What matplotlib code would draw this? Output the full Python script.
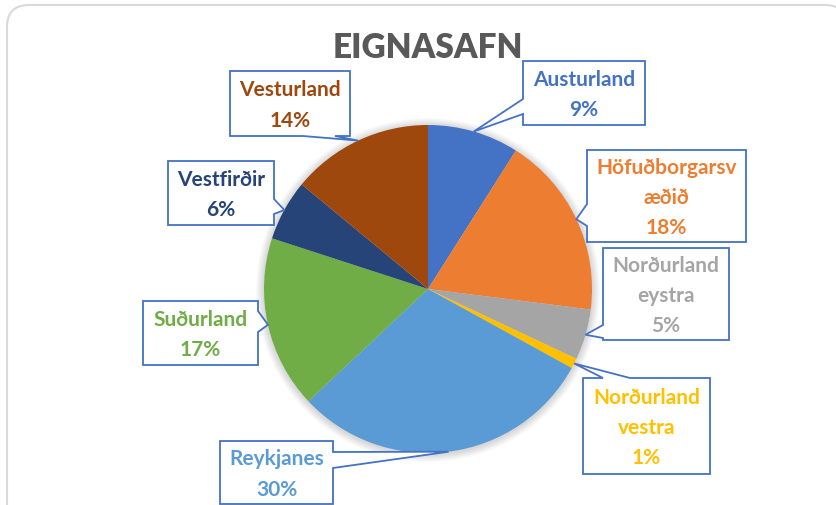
import numpy as np
import matplotlib
matplotlib.use('Agg')
from matplotlib import pyplot as plt
from matplotlib.patches import Polygon, FancyBboxPatch, Circle

# data, clockwise from the top
regions = ['Austurland', 'Höfuðborgarsv\næðið', 'Norðurland\neystra', 'Norðurland\nvestra',
           'Reykjanes', 'Suðurland', 'Vestfirðir', 'Vesturland']
shares = [9, 18, 5, 1, 30, 17, 6, 14]
colors = ['#4472C4', '#ED7D31', '#A5A5A5', '#FFC000',
          '#5B9BD5', '#70AD47', '#264478', '#9E480E']
title = 'EIGNASAFN'

# callout layout in pixels: box (x0, y0, x1, y1), side of the pointer, pointer base span
callouts = [
    ((523, 62, 645, 126), 'left', (100, 115)),
    ((587, 151, 746, 243), 'left', (205, 227)),
    ((603, 249, 729, 341), 'left', (326, 339)),
    ((583, 379, 710, 475), 'top', (603, 630)),
    ((220, 442, 333, 505), 'right', (453, 469)),
    ((143, 302, 258, 366), 'right', (312, 333)),
    ((168, 162, 274, 226), 'right', (200, 215)),
    ((230, 72, 350, 137), 'bottom', (303, 335)),
]

W, H = 836, 506
cx, cy, R = 428, 290, 164
edge_blue = '#4472C4'
font = ['Lato', 'DejaVu Sans']


def callout_shape(box, side, base, tip):
    x0, y0, x1, y1 = box
    b0, b1 = base
    if side == 'left':
        pts = [(x0, y0), (x1, y0), (x1, y1), (x0, y1), (x0, b1), tip, (x0, b0)]
    elif side == 'right':
        pts = [(x0, y0), (x1, y0), (x1, b0), tip, (x1, b1), (x1, y1), (x0, y1)]
    elif side == 'top':
        pts = [(x0, y0), (b0, y0), tip, (b1, y0), (x1, y0), (x1, y1), (x0, y1)]
    else:
        pts = [(x0, y0), (x1, y0), (x1, y1), (b1, y1), tip, (b0, y1), (x0, y1)]
    return Polygon(pts, closed=True, fc='white', ec=edge_blue, lw=1.3, joinstyle='miter', zorder=5)


fig = plt.figure(figsize=(W / 100, H / 100), dpi=100)
ax = fig.add_axes([0, 0, 1, 1])

# outer chart frame
frame = FancyBboxPatch((7, 6), 840, 530, boxstyle='round,pad=0,rounding_size=22',
                       fc='white', ec='#D9D9D9', lw=1.5, zorder=0)
ax.add_patch(frame)

# soft shadow around the pie
for i in range(8):
    ax.add_patch(Circle((cx, cy + 1), R + 8 - i, fc='#000000', ec='none', alpha=0.018, zorder=1))

wedges, _ = ax.pie(shares, colors=colors, startangle=-90, counterclock=True,
                   center=(cx, cy), radius=R, wedgeprops=dict(linewidth=0, zorder=2))

for w, name, val, col, (box, side, base) in zip(wedges, regions, shares, colors, callouts):
    mid = np.deg2rad((w.theta1 + w.theta2) / 2)
    tip = (cx + R * np.cos(mid), cy + R * np.sin(mid))
    ax.add_patch(callout_shape(box, side, base, tip))
    x0, y0, x1, y1 = box
    ax.text((x0 + x1) / 2, (y0 + y1) / 2 + 1, f'{name}\n{val}%', color=col,
            ha='center', va='center', fontsize=15, fontweight='bold',
            family=font, linespacing=1.65, zorder=6)

ax.text(428, 48, title, ha='center', va='center', fontsize=24, fontweight='heavy',
        color='#595959', family=font)

ax.set_xlim(0, W)
ax.set_ylim(H, 0)
ax.set_aspect('equal')
ax.axis('off')

fig.savefig('out.png', dpi=100)
